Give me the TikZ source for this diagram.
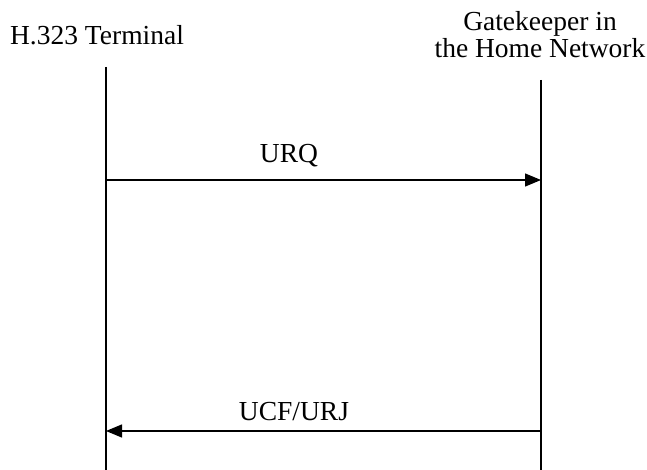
\documentclass[tikz,border=0pt]{standalone}
\usepackage{fontspec}
\setmainfont{Liberation Serif}
\usetikzlibrary{arrows.meta}
\usetikzlibrary{calc}

\begin{document}
\begin{tikzpicture}[x=1pt,y=-1pt,
    life/.style={line width=1.3pt},
    msg/.style={line width=1.3pt,-{Triangle[length=16pt,width=13pt]}},
    lbl/.style={font=\fontsize{27.5}{27}\selectfont,inner sep=0pt}]
  \useasboundingbox (0,0) rectangle (647,470);
  % headers
  \node[lbl] (term) at (97,35) {H.323 Terminal};
  \node[lbl,align=center] (gk) at (540,35) {Gatekeeper in\\the Home Network};
  % lifelines
  \coordinate (term-top) at (106,67);
  \coordinate (term-bot) at (106,470);
  \coordinate (gk-top) at (541,80);
  \coordinate (gk-bot) at (541,470);
  \draw[life] (term-top) -- (term-bot);
  \draw[life] (gk-top) -- (gk-bot);
  % messages
  \coordinate (urq-a) at (106,180);
  \coordinate (urq-b) at (541,180);
  \coordinate (ucf-a) at (541,431);
  \coordinate (ucf-b) at (106,431);
  \draw[msg] (urq-a) -- (urq-b);
  \draw[msg] (ucf-a) -- (ucf-b);
  \node[lbl] (urq) at (289,156) {URQ};
  \node[lbl] (ucf) at (294,412) {UCF/URJ};
\end{tikzpicture}
\end{document}
